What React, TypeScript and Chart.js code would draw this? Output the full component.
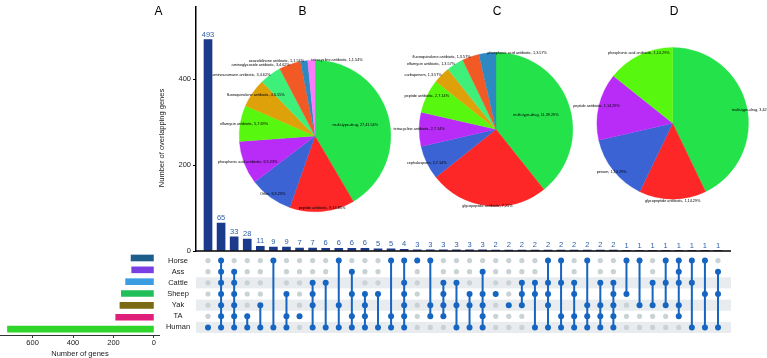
import React, { useEffect, useRef } from 'react';
import { Chart, registerables } from 'chart.js';
Chart.register(...registerables);

const FONT = "'Liberation Sans', Arial, Helvetica, sans-serif";

// ---------- data ----------
const setNames = ['Horse', 'Ass', 'Cattle', 'Sheep', 'Yak', 'TA', 'Human'];
const setSizes = [113, 110, 140, 161, 168, 189, 724];
const setSizeTicks = [0, 200, 400, 600];

const intersectionSizes = [
  493, 65, 33, 28, 11, 9, 9, 7, 7, 6, 6, 6, 6, 5, 5, 4, 3, 3, 3, 3,
  3, 3, 2, 2, 2, 2, 2, 2, 2, 2, 2, 2, 1, 1, 1, 1, 1, 1, 1, 1,
];
const intersectionMembers: string[][] = [
  ['Human'],
  ['Horse', 'Ass', 'Cattle', 'Sheep', 'Yak', 'TA', 'Human'],
  ['Ass', 'Cattle', 'Sheep', 'Yak', 'TA', 'Human'],
  ['TA', 'Human'],
  ['Yak', 'Human'],
  ['Horse', 'Human'],
  ['Sheep', 'TA', 'Human'],
  ['TA'],
  ['Cattle', 'Sheep', 'Yak', 'Human'],
  ['Cattle', 'Human'],
  ['Horse', 'Yak', 'Human'],
  ['Ass', 'Sheep', 'TA', 'Human'],
  ['Sheep', 'Yak', 'TA', 'Human'],
  ['Sheep', 'Human'],
  ['Horse', 'TA', 'Human'],
  ['Horse', 'Cattle', 'Sheep', 'Yak', 'TA', 'Human'],
  ['Horse'],
  ['Horse', 'Yak', 'TA'],
  ['Cattle', 'Sheep', 'Yak', 'TA'],
  ['Cattle', 'Yak', 'Human'],
  ['Sheep', 'Yak', 'Human'],
  ['Ass', 'Sheep', 'Yak', 'TA', 'Human'],
  ['Sheep'],
  ['Yak'],
  ['Cattle', 'Sheep', 'Yak'],
  ['Cattle', 'Sheep', 'Human'],
  ['Horse', 'Cattle', 'Sheep', 'Yak', 'Human'],
  ['Horse', 'Cattle', 'TA', 'Human'],
  ['Cattle', 'Sheep', 'TA', 'Human'],
  ['Horse', 'Yak', 'TA', 'Human'],
  ['Cattle', 'Yak', 'TA', 'Human'],
  ['Cattle', 'Sheep', 'Yak', 'TA', 'Human'],
  ['Horse', 'Sheep'],
  ['Horse', 'Yak'],
  ['Cattle', 'Yak'],
  ['Horse', 'Cattle', 'Yak'],
  ['Horse', 'Ass', 'Cattle', 'Yak', 'TA'],
  ['Horse', 'Cattle', 'Human'],
  ['Horse', 'Sheep', 'Human'],
  ['Ass', 'Sheep', 'Human'],
];
const barTicks = [0, 200, 400];

const pieBLabels = [
  'multi-type-drug', 'peptide antibiotic', 'Other', 'phosphonic acid antibiotic',
  'elfamycin antibiotic', 'fluoroquinolone antibiotic', 'aminocoumarin antibiotic',
  'aminoglycoside antibiotic', 'oxazolidinone antibiotic', 'tetracycline antibiotic',
];
const pieBValues = [27, 9, 6, 6, 5, 4, 3, 3, 1, 1];

const pieCLabels = [
  'multi-type-drug', 'glycopeptide antibiotic', 'cephalosporin', 'tetracycline antibiotic',
  'peptide antibiotic', 'carbapenem', 'elfamycin antibiotic', 'fluoroquinolone antibiotic',
  'phosphonic acid antibiotic',
];
const pieCValues = [11, 7, 2, 2, 2, 1, 1, 1, 1];

const pieDLabels = [
  'multi-type-drug', 'glycopeptide antibiotic', 'penam', 'peptide antibiotic',
  'phosphonic acid antibiotic',
];
const pieDValues = [3, 1, 1, 1, 1];

// ---------- styles ----------
const setColors = ['#1d5e8b', '#7a3fe2', '#3a9de2', '#21bf59', '#7a6a13', '#df1f79', '#2fd52b'];
const pieColors = [
  '#23e24a', '#fe2727', '#3b63d3', '#b92cf8', '#57f70f',
  '#dea10a', '#3ef07a', '#f15a24', '#2e88c2', '#fb7cfb',
];
const barColor = '#1b3a8b';
const barLabelColor = '#2d5fa8';
const dotOn = '#1665c1';
const dotOff = '#c9d2d5';
const stripe = '#e8ecef';
const textColor = '#1a1a1a';
const X_MIN = -0.918;
const X_MAX = 39.994;

const barLabelPlugin = {
  id: 'barLabels',
  afterDatasetsDraw(chart: any) {
    const ctx = chart.ctx;
    const meta = chart.getDatasetMeta(0);
    ctx.save();
    ctx.font = `7.5px ${FONT}`;
    ctx.fillStyle = barLabelColor;
    ctx.textAlign = 'center';
    ctx.textBaseline = 'alphabetic';
    meta.data.forEach((el: any, i: number) => {
      const { x, y } = el.getProps(['x', 'y'], true);
      ctx.fillText(String(intersectionSizes[i]), x, y - 3);
    });
    ctx.restore();
  },
  afterDraw(chart: any) {
    const { ctx, chartArea } = chart;
    ctx.save();
    ctx.strokeStyle = '#000';
    ctx.lineWidth = 1.5;
    ctx.beginPath();
    ctx.moveTo(chartArea.left - 0.75, chartArea.bottom);
    ctx.lineTo(chartArea.right, chartArea.bottom);
    ctx.stroke();
    ctx.restore();
  },
};

const matrixPlugin = {
  id: 'matrixDecor',
  beforeDatasetsDraw(chart: any) {
    const { ctx, chartArea } = chart;
    const ys = chart.scales.y;
    ctx.save();
    ctx.fillStyle = stripe;
    [0, 2, 4].forEach((r) => {
      const y1 = ys.getPixelForValue(r + 0.5);
      const y2 = ys.getPixelForValue(r - 0.5);
      ctx.fillRect(chartArea.left, y1, chartArea.right - chartArea.left, y2 - y1);
    });
    ctx.restore();
  },
  afterDraw(chart: any) {
    const { ctx, chartArea } = chart;
    const ys = chart.scales.y;
    ctx.save();
    ctx.font = `7.5px ${FONT}`;
    ctx.fillStyle = textColor;
    ctx.textAlign = 'center';
    ctx.textBaseline = 'middle';
    setNames.forEach((n, k) => {
      ctx.fillText(n, chartArea.left - 18, ys.getPixelForValue(setNames.length - 1 - k));
    });
    ctx.restore();
  },
};

type PieCfg = { mainFactor: number; mainAlign: CanvasTextAlign; labelFactor: number };

const makePieLabelPlugin = (cfg: PieCfg) => ({
  id: 'pieLabels',
  afterDatasetsDraw(chart: any) {
    const ctx = chart.ctx;
    const meta = chart.getDatasetMeta(0);
    const data = chart.data.datasets[0].data as number[];
    const total = data.reduce((a, b) => a + b, 0);
    ctx.save();
    ctx.font = `3.8px ${FONT}`;
    ctx.fillStyle = '#000';
    ctx.textBaseline = 'middle';
    meta.data.forEach((arc: any, i: number) => {
      const { x, y, startAngle, endAngle, outerRadius } = arc.getProps(
        ['x', 'y', 'startAngle', 'endAngle', 'outerRadius'], true);
      const mid = (startAngle + endAngle) / 2;
      const frac = data[i] / total;
      const pct = +(frac * 100).toFixed(2);
      const text = `${chart.data.labels[i]}, ${data[i]},${pct}%`;
      let f = cfg.labelFactor;
      let align: CanvasTextAlign = 'center';
      if (frac > 0.3) {
        f = cfg.mainFactor;
        align = cfg.mainAlign;
      } else if (frac < 0.05) {
        f = 1.0;
        align = Math.cos(mid) > -0.13 ? 'left' : 'right';
      }
      ctx.textAlign = align;
      ctx.fillText(text, x + Math.cos(mid) * outerRadius * f, y + Math.sin(mid) * outerRadius * f);
    });
    ctx.restore();
  },
});

function makePie(canvas: HTMLCanvasElement, labels: string[], values: number[], padding: any, cfg: PieCfg) {
  return new Chart(canvas, {
    type: 'pie',
    data: {
      labels,
      datasets: [{
        data: values,
        backgroundColor: pieColors.slice(0, values.length),
        borderColor: pieColors.slice(0, values.length),
        borderWidth: 0.3,
      }],
    },
    options: {
      animation: false,
      responsive: false,
      layout: { padding },
      plugins: { legend: { display: false }, tooltip: { enabled: false } },
    },
    plugins: [makePieLabelPlugin(cfg)],
  } as any);
}

export default function App() {
  const barRef = useRef<HTMLCanvasElement>(null);
  const matRef = useRef<HTMLCanvasElement>(null);
  const setRef = useRef<HTMLCanvasElement>(null);
  const pieBRef = useRef<HTMLCanvasElement>(null);
  const pieCRef = useRef<HTMLCanvasElement>(null);
  const pieDRef = useRef<HTMLCanvasElement>(null);

  useEffect(() => {
    const charts: Chart[] = [];
    const tickFont = { family: FONT, size: 7.5 };

    // intersection size bars
    charts.push(new Chart(barRef.current!, {
      type: 'bar',
      data: {
        datasets: [{
          data: intersectionSizes.map((v, i) => ({ x: i, y: v })),
          backgroundColor: barColor,
          barThickness: 8,
        }],
      },
      options: {
        animation: false,
        responsive: false,
        layout: { padding: { left: 0, right: 36, top: 0, bottom: 11 } },
        plugins: { legend: { display: false }, tooltip: { enabled: false } },
        scales: {
          x: { type: 'linear', display: false, min: X_MIN, max: X_MAX, offset: false },
          y: {
            min: 0,
            max: 570,
            afterFit: (s: any) => { s.width = 46; },
            afterBuildTicks: (s: any) => { s.ticks = barTicks.map((v) => ({ value: v })); },
            ticks: { font: tickFont, color: textColor, padding: 2 },
            grid: { display: true, drawOnChartArea: false, drawTicks: true, tickLength: 3, color: '#000', lineWidth: 1 },
            border: { display: true, color: '#000', width: 1.5 },
          },
        },
      },
      plugins: [barLabelPlugin],
    } as any));

    // matrix
    const rowOf = (n: string) => setNames.length - 1 - setNames.indexOf(n);
    const grayPts: any[] = [];
    const bluePts: any[] = [];
    const linePts: any[] = [];
    intersectionMembers.forEach((m, i) => {
      const rows = m.map(rowOf);
      const lo = Math.min(...rows);
      const hi = Math.max(...rows);
      for (let r = 0; r < setNames.length; r++) {
        if (r >= lo && r <= hi) continue;
        grayPts.push({ x: i, y: r });
      }
      rows.forEach((r) => bluePts.push({ x: i, y: r }));
      if (rows.length > 1) {
        linePts.push({ x: i, y: lo }, { x: i, y: hi }, { x: i, y: null });
      }
    });
    charts.push(new Chart(matRef.current!, {
      type: 'scatter',
      data: {
        datasets: [
          { data: grayPts, pointRadius: 2.6, pointBackgroundColor: dotOff, pointBorderWidth: 0, order: 3 },
          { data: linePts, showLine: true, borderColor: dotOn, borderWidth: 2, pointRadius: 0, spanGaps: false, order: 2 },
          { data: bluePts, pointRadius: 3, pointBackgroundColor: dotOn, pointBorderWidth: 0, order: 1 },
        ],
      },
      options: {
        animation: false,
        responsive: false,
        layout: { padding: { left: 196, right: 36, top: 1.06, bottom: 1.8 } },
        plugins: { legend: { display: false }, tooltip: { enabled: false } },
        scales: {
          x: { type: 'linear', display: false, min: X_MIN, max: X_MAX },
          y: { type: 'linear', display: false, min: -0.5, max: 6.5 },
        },
      },
      plugins: [matrixPlugin],
    } as any));

    // set sizes
    charts.push(new Chart(setRef.current!, {
      type: 'bar',
      data: {
        labels: setNames,
        datasets: [{ data: setSizes, backgroundColor: setColors, barThickness: 6 }],
      },
      options: {
        animation: false,
        responsive: false,
        indexAxis: 'y',
        layout: { padding: { left: 0, right: 0, top: 1.06, bottom: 0 } },
        plugins: { legend: { display: false }, tooltip: { enabled: false } },
        scales: {
          y: { type: 'category', display: false, offset: true },
          x: {
            type: 'linear',
            reverse: true,
            min: -30,
            max: 761,
            afterBuildTicks: (s: any) => { s.ticks = setSizeTicks.map((v) => ({ value: v })); },
            ticks: { font: tickFont, color: textColor, padding: 0, maxRotation: 0 },
            grid: { display: true, drawOnChartArea: false, drawTicks: true, tickLength: 3, color: '#333' },
            border: { display: true, color: '#333', width: 1 },
            title: {
              display: true,
              text: 'Number of genes',
              font: tickFont,
              color: textColor,
              padding: { top: 2, bottom: 0 },
            },
          },
        },
      },
    } as any));

    charts.push(makePie(pieBRef.current!, pieBLabels, pieBValues,
      { left: 49, top: 40, right: 29, bottom: 23 },
      { mainFactor: 0.55, mainAlign: 'center', labelFactor: 0.95 }));
    charts.push(makePie(pieCRef.current!, pieCLabels, pieCValues,
      { left: 29, top: 32.3, right: 17, bottom: 23.7 },
      { mainFactor: 0.55, mainAlign: 'center', labelFactor: 1.0 }));
    charts.push(makePie(pieDRef.current!, pieDLabels, pieDValues,
      { left: 26.7, top: 27.3, right: 18.3, bottom: 30.7 },
      { mainFactor: 0.8, mainAlign: 'left', labelFactor: 1.03 }));

    return () => charts.forEach((c) => c.destroy());
  }, []);

  const abs = (l: number, t: number, w: number, h: number): React.CSSProperties => ({
    position: 'absolute', left: l, top: t, width: w, height: h,
  });
  const letter = (x: number, y: number): React.CSSProperties => ({
    position: 'absolute', left: x, top: y, transform: 'translate(-50%, -50%)',
    fontFamily: FONT, fontSize: 12, color: '#000', lineHeight: 1,
  });

  return (
    <div style={{ position: 'fixed', left: 0, top: 0, width: 767, height: 358, background: '#fff', overflow: 'hidden' }}>
      <canvas ref={barRef} width={617} height={262} style={abs(150, 0, 617, 262)} />
      <canvas ref={setRef} width={160} height={107} style={abs(0, 251, 160, 107)} />
      <canvas ref={matRef} width={767} height={86} style={abs(0, 251, 767, 86)} />
      <canvas ref={pieBRef} width={230} height={215} style={abs(190, 20, 230, 215)} />
      <canvas ref={pieCRef} width={200} height={210} style={abs(390, 20, 200, 210)} />
      <canvas ref={pieDRef} width={197} height={210} style={abs(570, 20, 197, 210)} />
      <div
        style={{
          position: 'absolute', left: 161.7, top: 138, transform: 'translate(-50%, -50%) rotate(-90deg)',
          fontFamily: FONT, fontSize: 7.5, color: textColor, whiteSpace: 'nowrap', lineHeight: 1,
        }}
      >
        Number of overlapping genes
      </div>
      <div style={letter(158.5, 11)}>A</div>
      <div style={letter(302.5, 11)}>B</div>
      <div style={letter(497, 11)}>C</div>
      <div style={letter(674, 11)}>D</div>
    </div>
  );
}
